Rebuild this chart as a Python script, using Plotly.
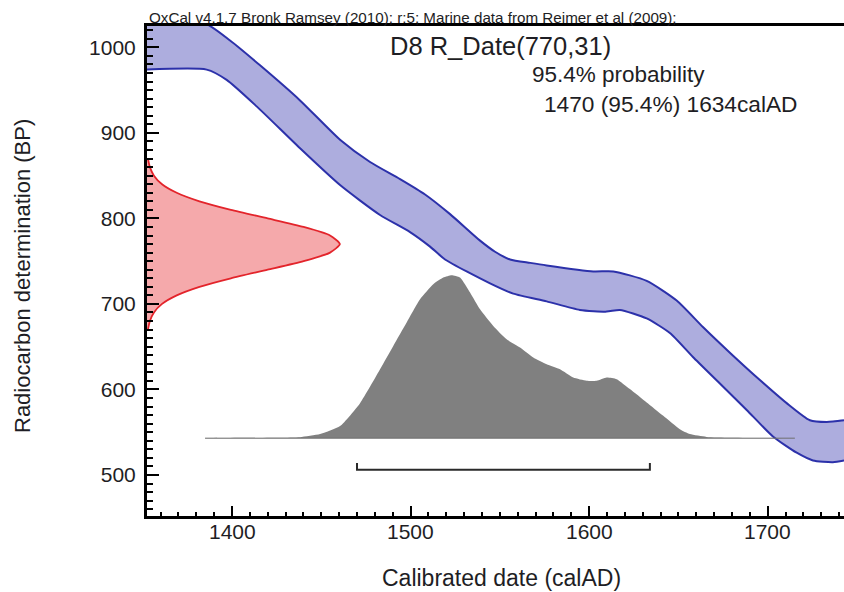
import plotly.graph_objects as go

# ---------------- data ----------------
# calibration curve (marine) – upper and lower envelope
cal_upper_year = [1352.4, 1384.9, 1398.9, 1415.7, 1438.1, 1460.5, 1477.3, 1494.1, 1508.1, 1522.1,
                  1538.9, 1547.3, 1555.7, 1567.0, 1576.2, 1602.3, 1613.5, 1632.2, 1649.0, 1663.7,
                  1678.8, 1695.6, 1710.6, 1723.6, 1733.0, 1742.7]
cal_upper_bp = [1030, 1028, 1008, 979, 938, 892, 866, 846, 828, 805,
                774, 761, 752, 748, 745, 738, 738, 727, 704, 673,
                643, 611, 584, 564, 562, 564]
cal_lower_year = [1352.4, 1385.8, 1397.0, 1413.8, 1438.1, 1460.5, 1482.9, 1499.7, 1510.9, 1519.3,
                  1544.5, 1557.5, 1576.2, 1594.8, 1609.8, 1617.2, 1632.2, 1645.2, 1658.1, 1673.2,
                  1688.2, 1702.9, 1716.2, 1725.3, 1736.5, 1742.7]
cal_lower_bp = [974, 974, 962, 931, 882, 839, 804, 784, 767, 752,
                724, 712, 703, 693, 691, 693, 683, 666, 638, 607,
                576, 545, 526, 517, 515, 517]

# radiocarbon determination R_Date(770,31) – relative probability on BP scale
red_bp = [870, 860, 850, 840, 830, 820, 810, 800, 790, 780, 770,
          760, 750, 740, 730, 720, 710, 700, 690, 680, 670]
red_prob = [0.005, 0.015, 0.036, 0.078, 0.154, 0.272, 0.435, 0.626, 0.812, 0.949, 1.0,
            0.949, 0.812, 0.626, 0.435, 0.272, 0.154, 0.078, 0.036, 0.015, 0.005]

# calibrated date distribution – relative probability
cal_year = [1384.9, 1426.9, 1438.1, 1449.3, 1460.5, 1471.7, 1482.9, 1490.3, 1497.8, 1505.3,
            1512.7, 1518.3, 1523.0, 1527.7, 1533.3, 1538.9, 1546.3, 1553.8, 1561.3, 1568.7,
            1576.2, 1583.7, 1591.1, 1598.6, 1604.2, 1609.8, 1615.4, 1622.8, 1632.2, 1641.5,
            1650.8, 1656.4, 1665.7, 1678.8, 1715.2]
cal_prob = [0, 0.003, 0.006, 0.025, 0.074, 0.215, 0.423, 0.566, 0.710, 0.853,
            0.945, 0.986, 1.0, 0.986, 0.894, 0.791, 0.689, 0.607, 0.556, 0.495,
            0.454, 0.423, 0.372, 0.352, 0.352, 0.372, 0.362, 0.301, 0.219, 0.137,
            0.055, 0.025, 0.008, 0.003, 0]

# 95.4% range
range_from = 1470
range_to = 1634

x_ticks = [1400, 1500, 1600, 1700]
y_ticks = [500, 600, 700, 800, 900, 1000]

# ---------------- layout constants ----------------
X_MIN, X_MAX = 1352.4, 1742.7
Y_MIN, Y_MAX = 452, 1025
RED_HEIGHT = 108.0       # years at peak
GRAY_BASE = 543.0        # BP baseline of calibrated distribution
GRAY_HEIGHT = 190.6      # BP at peak
BRACKET_Y = 506
BRACKET_TICK = 8

W, H = 844, 592
ML, MR, MT, MB = 147, 0, 26, 76
PW, PH = W - ML - MR, H - MT - MB

def px(xp):
    return (xp - ML) / PW

def py(yp):
    return (H - MB - yp) / PH

FONT = "Liberation Sans, Arial, sans-serif"
TXT = "#1e1e24"

fig = go.Figure()

# calibration band fill
fig.add_trace(go.Scatter(
    x=cal_upper_year + cal_lower_year[::-1],
    y=cal_upper_bp + cal_lower_bp[::-1],
    fill="toself", fillcolor="#adadde", mode="lines",
    line=dict(width=0, color="#adadde", shape="spline", smoothing=0.6),
    hoverinfo="skip"))
for xs, ys in ((cal_upper_year, cal_upper_bp), (cal_lower_year, cal_lower_bp)):
    fig.add_trace(go.Scatter(x=xs, y=ys, mode="lines",
                             line=dict(color="#2c31aa", width=2, shape="spline", smoothing=0.6),
                             hoverinfo="skip"))

# red radiocarbon distribution
red_x = [X_MIN + RED_HEIGHT * p for p in red_prob]
fig.add_trace(go.Scatter(
    x=[X_MIN] + red_x + [X_MIN], y=[red_bp[0]] + red_bp + [red_bp[-1]],
    fill="toself", fillcolor="#f5a9ab", mode="lines",
    line=dict(width=0, color="#f5a9ab"), hoverinfo="skip"))
fig.add_trace(go.Scatter(
    x=red_x, y=red_bp, mode="lines",
    line=dict(color="#e3242b", width=1.8, shape="spline", smoothing=0.6), hoverinfo="skip"))

# grey calibrated distribution
gray_y = [GRAY_BASE + GRAY_HEIGHT * p for p in cal_prob]
fig.add_trace(go.Scatter(
    x=cal_year + [cal_year[-1], cal_year[0]],
    y=gray_y + [GRAY_BASE, GRAY_BASE],
    fill="toself", fillcolor="#808080", mode="lines",
    line=dict(width=0, color="#808080", shape="spline", smoothing=0.5), hoverinfo="skip"))
fig.add_trace(go.Scatter(
    x=[cal_year[0], cal_year[-1]], y=[GRAY_BASE, GRAY_BASE], mode="lines",
    line=dict(color="#707070", width=1), hoverinfo="skip"))

# 95.4% range bracket
fig.add_trace(go.Scatter(
    x=[range_from, range_from, range_to, range_to],
    y=[BRACKET_Y + BRACKET_TICK, BRACKET_Y, BRACKET_Y, BRACKET_Y + BRACKET_TICK],
    mode="lines", line=dict(color="#2a2a2a", width=2), hoverinfo="skip"))

fig.update_layout(
    width=W, height=H,
    margin=dict(l=ML, r=MR, t=MT, b=MB),
    paper_bgcolor="white", plot_bgcolor="white",
    showlegend=False,
    font=dict(family=FONT, color=TXT),
    xaxis=dict(range=[X_MIN, X_MAX], showline=True, linecolor="black", linewidth=3,
               mirror=True, showgrid=False, zeroline=False,
               tickvals=x_ticks, showticklabels=False,
               ticks="inside", ticklen=10, tickwidth=2, tickcolor="black",
               minor=dict(ticks="inside", dtick=10, tick0=0, ticklen=4, tickwidth=1.5,
                          tickcolor="black", showgrid=False)),
    yaxis=dict(range=[Y_MIN, Y_MAX], showline=True, linecolor="black", linewidth=3,
               showgrid=False, zeroline=False,
               tickvals=y_ticks, ticktext=[str(v) for v in y_ticks],
               ticks="inside", ticklen=12, tickwidth=2, tickcolor="black",
               minor=dict(ticks="inside", dtick=10, tick0=0, ticklen=6, tickwidth=1.5,
                          tickcolor="black", showgrid=False),
               tickfont=dict(size=21, color=TXT, family=FONT), ticklabelstandoff=4),
)

ann = [
    dict(text="OxCal v4.1.7 Bronk Ramsey (2010); r:5; Marine data from Reimer et al (2009);",
         x=px(147), y=py(17), xanchor="left", yanchor="middle", font=dict(size=15.2)),
    dict(text="D8 R_Date(770,31)", x=px(500), y=py(46), xanchor="center", yanchor="middle",
         font=dict(size=25.5)),
    dict(text="95.4% probability", x=px(707), y=py(75), xanchor="right", yanchor="middle",
         font=dict(size=22.5)),
    dict(text="1470 (95.4%) 1634calAD", x=px(800), y=py(104), xanchor="right", yanchor="middle",
         font=dict(size=22.7)),
    dict(text="Calibrated date (calAD)", x=px(502), y=py(578), xanchor="center", yanchor="middle",
         font=dict(size=23)),
    dict(text="Radiocarbon determination (BP)", x=px(22), y=py(276), xanchor="center",
         yanchor="middle", textangle=-90, font=dict(size=22)),
]
for a in ann:
    a.update(xref="paper", yref="paper", showarrow=False)
    a["font"].update(family=FONT, color=TXT)
# x tick labels placed just below the axis line
for v in x_ticks:
    ann.append(dict(text=str(v), x=v, xref="x", y=py(531), yref="paper",
                    xanchor="center", yanchor="middle", showarrow=False,
                    font=dict(size=21, family=FONT, color=TXT)))
fig.update_layout(annotations=ann)

fig.write_html("out.html")
